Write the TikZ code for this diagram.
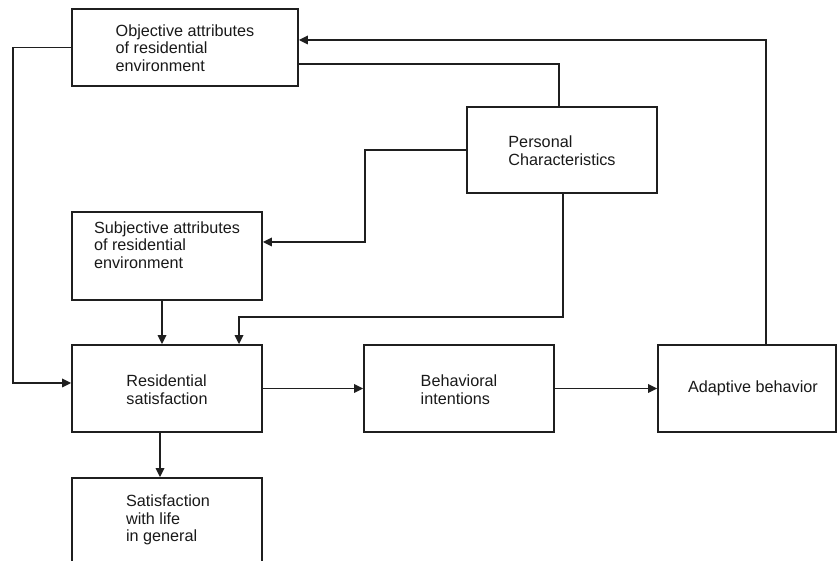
\documentclass[tikz,border=0pt]{standalone}
\usepackage{fontspec}
\setmainfont{Liberation Sans}
\usetikzlibrary{arrows.meta,calc}
\tikzset{
  box/.style={draw=black!88, line width=1.8pt, rectangle, inner sep=0pt},
  txt/.style={align=left, font=\fontsize{16.2pt}{17.6pt}\selectfont, inner sep=0pt, text=black!90},
  conn/.style={draw=black!88, line width=1.7pt},
  arr/.style={conn, -{Triangle[length=9pt,width=8.5pt]}}
}
\begin{document}
\begin{tikzpicture}[x=1pt,y=-1pt]
\useasboundingbox (0,0) rectangle (839,561);
\clip (0,0) rectangle (839,561);
% boxes
\node[box, minimum width=226pt, minimum height=77pt] (obj) at (185,47.5) {};
\node[txt] (objt) at (185,48) {Objective attributes\\of residential\\environment};
\node[box, minimum width=190pt, minimum height=86pt] (pers) at (562,150) {};
\node[txt] (perst) at (562,151) {Personal\\Characteristics};
\node[box, minimum width=190pt, minimum height=88pt] (subj) at (167,256) {};
\node[txt] (subjt) at (167,245) {Subjective attributes\\of residential\\environment};
\node[box, minimum width=190pt, minimum height=87pt] (res) at (167,388.5) {};
\node[txt] (rest) at (167,390) {Residential\\satisfaction};
\node[box, minimum width=190pt, minimum height=87pt] (beh) at (459,388.5) {};
\node[txt] (beht) at (459,390) {Behavioral\\intentions};
\node[box, minimum width=178pt, minimum height=87pt] (adap) at (747,388.5) {};
\node[txt] (adapt) at (753,388) {Adaptive behavior};
\node[box, minimum width=190pt, minimum height=110pt] (life) at (167,533) {};
\node[txt] (lifet) at (168,520) {Satisfaction\\with life\\in general};
% connectors
\draw[arr] (obj.west) -- ++(-58,0) |- ([yshift=5.5pt]res.west);
\draw[arr] ([xshift=19pt]adap.north) |- ([yshift=7.5pt]obj.east);
\draw[conn] ([yshift=-16.5pt]obj.east) -| ([xshift=-3pt]pers.north);
\draw[arr] (pers.west) -- ++(-101,0) |- ([yshift=14pt]subj.east);
\coordinate (c1) at (563,317);
\draw[arr] ([xshift=1pt]pers.south) -- (c1) -| ([xshift=72pt]res.north);
\draw[arr] ([xshift=-5pt]subj.south) -- ([xshift=-5pt]res.north);
\draw[arr] (res.east) -- (beh.west);
\draw[arr] (beh.east) -- (adap.west);
\draw[arr] ([xshift=-7pt]res.south) -- ([xshift=-7pt]life.north);
\end{tikzpicture}
\end{document}
